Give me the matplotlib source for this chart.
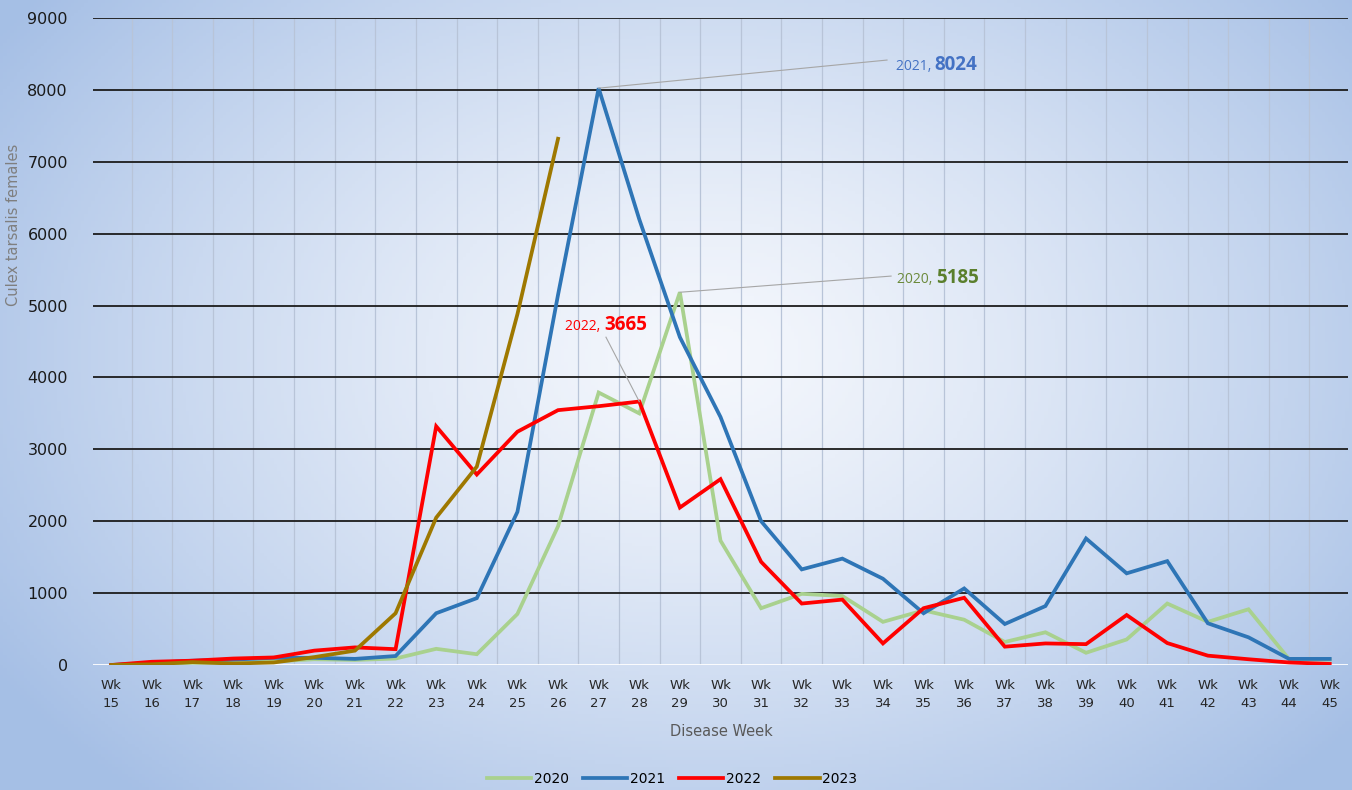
import numpy as np
import matplotlib
matplotlib.use("Agg")
import matplotlib.pyplot as plt

weeks = list(range(15, 46))
week_labels = ["Wk\n%d" % w for w in weeks]

y2020 = [0, 15, 30, 30, 50, 80, 70, 90, 225, 150, 710, 1930, 3790, 3500, 5185,
         1730, 790, 990, 960, 600, 760, 630, 320, 455, 170, 355, 855, 600, 775, 80, 75]
y2021 = [0, 30, 60, 75, 100, 100, 85, 125, 720, 930, 2130, 5150, 8024, 6200, 4560,
         3450, 2000, 1330, 1480, 1200, 720, 1065, 570, 820, 1760, 1275, 1445, 580, 385, 85, 85]
y2022 = [0, 45, 60, 90, 105, 200, 245, 220, 3320, 2650, 3245, 3545, 3600, 3665, 2190,
         2585, 1435, 855, 910, 300, 790, 935, 255, 300, 290, 695, 305, 130, 80, 35, 15]
y2023 = [0, 10, 40, 20, 35, 110, 200, 720, 2050, 2760, 4880, 7320]

series = [("2020", y2020, "#a9d18e"),
          ("2021", y2021, "#2e75b6"),
          ("2022", y2022, "#ff0000"),
          ("2023", y2023, "#9e7800")]

W, H = 1352, 790
fig = plt.figure(figsize=(W / 100, H / 100), dpi=100)

# radial background like the excel chart fill
bg = fig.add_axes([0, 0, 1, 1], zorder=-10)
gx, gy = np.meshgrid(np.linspace(0, 1, 400), np.linspace(0, 1, 240))
r = np.sqrt(((gx - 0.52) / 0.62) ** 2 + ((gy - 0.45) / 0.75) ** 2)
r = np.clip(r, 0, 1) ** 1.3
c_in = np.array([0.96, 0.97, 0.99])
c_out = np.array([0.65, 0.75, 0.90])
img = c_in[None, None, :] * (1 - r[..., None]) + c_out[None, None, :] * r[..., None]
bg.imshow(img, aspect="auto", extent=[0, 1, 0, 1], origin="upper")
bg.axis("off")

ax = fig.add_axes([93 / W, 1 - 665 / H, (1348 - 93) / W, (665 - 18) / H])
ax.set_facecolor("none")

x = np.arange(len(weeks))
handles = []
for name, vals, col in series:
    h, = ax.plot(x[:len(vals)], vals, color=col, lw=2.7, label=name,
                 solid_joinstyle="miter", zorder=3)
    handles.append(h)

ax.set_xlim(-0.45, len(weeks) - 0.55)
ax.set_ylim(0, 9000)
ax.set_yticks(range(0, 9001, 1000))
ax.set_xticks(x)
ax.set_xticklabels(week_labels, fontsize=9.5, color="#262626", linespacing=1.55)
ax.tick_params(axis="x", length=0, pad=10)
ax.tick_params(axis="y", length=0, pad=18, labelsize=11.5, labelcolor="#1a1a1a")
for s in ax.spines.values():
    s.set_visible(False)

for yv in range(1000, 9001, 1000):
    ax.axhline(yv, color="#1c1c1c", lw=1.3, zorder=1)
ax.axhline(0, color="white", lw=2, zorder=2)
for xv in np.arange(-0.5, len(weeks), 1.0):
    ax.axvline(xv, color="#b8c4d8", lw=0.9, zorder=0.5)

# data labels
ann = [("2021, ", "8024", 12, 8024, 20.27, 8270, 19.1, 8415, "#4472c4", "#4472c4"),
       ("2020, ", "5185", 14, 5185, 20.31, 5310, 19.2, 5410, "#6b8a3a", "#5a7f2c"),
       ("2022, ", "3665", 13, 3665, 12.14, 4660, 12.18, 4560, "#ff0000", "#ff0000")]
for yr, val, px, py, tx, ty, lx, ly, c1, c2 in ann:
    ax.plot([px, lx], [py, ly], color="#a6a6a6", lw=0.8, zorder=4)
    ax.text(tx, ty, yr, ha="right", va="baseline", fontsize=10,
            family="Open Sans", color=c1, zorder=5)
    ax.text(tx, ty, val, ha="left", va="baseline", fontsize=13.5,
            family="Open Sans", fontweight="bold", color=c2, zorder=5)

fig.text(721 / W, 1 - 732 / H, "Disease Week", ha="center", va="center",
         fontsize=10.5, color="#595959")
fig.text(14 / W, 1 - 225 / H, "Culex tarsalis females", rotation=90,
         ha="center", va="center", fontsize=10.5, color="#7f7f7f",
         family=["Liberation Sans Narrow", "DejaVu Sans"])

fig.legend(handles=handles, loc="center", bbox_to_anchor=(672 / W, 1 - 779 / H),
           ncol=4, frameon=False, fontsize=10, handlelength=3.2,
           columnspacing=1.0, handletextpad=0.2)

fig.savefig("out.png", dpi=100)
